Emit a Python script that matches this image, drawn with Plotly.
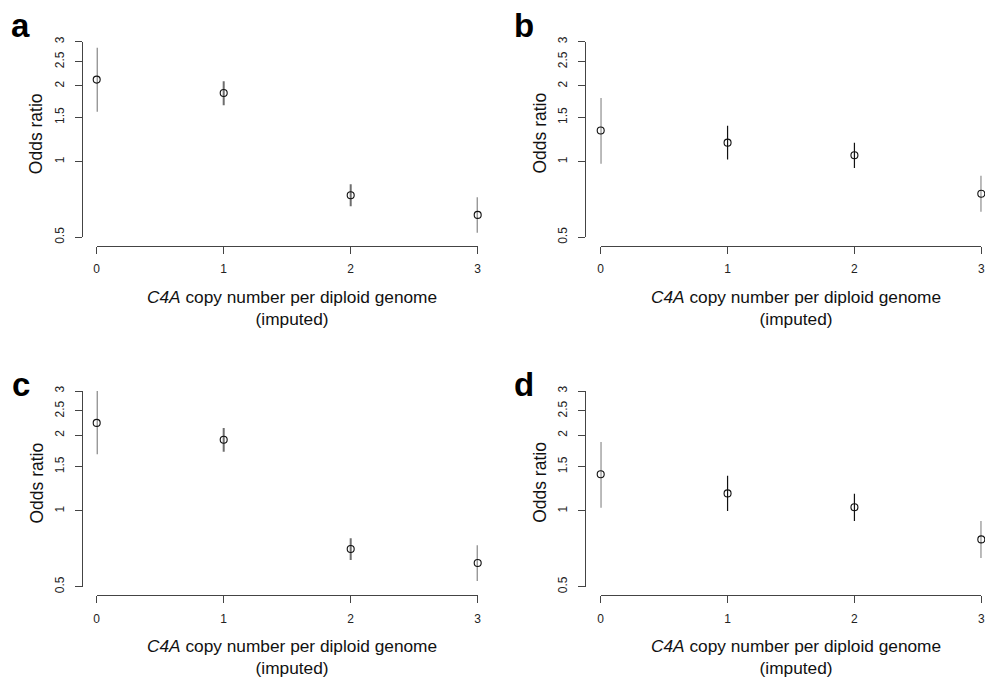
import plotly.graph_objects as go
import math

W, H = 985, 679

# ---- data ----
copies = [0, 1, 2, 3]
tick_y = [0.5, 1, 1.5, 2, 2.5, 3]
tick_y_text = ["0.5", "1", "1.5", "2", "2.5", "3"]
tick_x = [0, 1, 2, 3]

a_or = [2.12, 1.875, 0.735, 0.614]
a_lo = [1.58, 1.675, 0.664, 0.521]
a_hi = [2.84, 2.09, 0.813, 0.722]

b_or = [1.33, 1.19, 1.06, 0.745]
b_lo = [0.98, 1.02, 0.944, 0.632]
b_hi = [1.79, 1.39, 1.19, 0.879]

c_or = [2.24, 1.92, 0.706, 0.621]
c_lo = [1.68, 1.72, 0.638, 0.527]
c_hi = [3.0, 2.14, 0.78, 0.73]

d_or = [1.40, 1.175, 1.035, 0.771]
d_lo = [1.03, 1.0, 0.912, 0.65]
d_hi = [1.88, 1.38, 1.17, 0.912]

panels = [
    dict(letter="a", orv=a_or, lo=a_lo, hi=a_hi, col="#6e6e6e", ew=2.0,
         yax_x=81.7, xdom=(96.7, 477.7), ydom=(41.7, 237.3), xax_y=245.7),
    dict(letter="b", orv=b_or, lo=b_lo, hi=b_hi, col="#111111", ew=1.2,
         yax_x=585.0, xdom=(600.7, 981.3), ydom=(41.7, 237.3), xax_y=245.7),
    dict(letter="c", orv=c_or, lo=c_lo, hi=c_hi, col="#6e6e6e", ew=2.0,
         yax_x=81.7, xdom=(96.7, 477.7), ydom=(391.0, 586.7), xax_y=595.0),
    dict(letter="d", orv=d_or, lo=d_lo, hi=d_hi, col="#111111", ew=1.2,
         yax_x=585.0, xdom=(600.7, 981.3), ydom=(391.0, 586.7), xax_y=595.0),
]

def fx(px):
    return px / W

def fy(py):
    return 1 - py / H

FONT = "Liberation Sans, Arial, Helvetica, sans-serif"

fig = go.Figure()
layout = dict(
    width=W, height=H,
    margin=dict(l=0, r=0, t=0, b=0),
    paper_bgcolor="white", plot_bgcolor="white",
    showlegend=False,
    font=dict(family=FONT, color="#111111"),
)
annotations = []

for i, p in enumerate(panels):
    n = i + 1
    xa = "x" if n == 1 else f"x{n}"
    ya = "y" if n == 1 else f"y{n}"
    plus = [h - o for h, o in zip(p["hi"], p["orv"])]
    minus = [o - l for o, l in zip(p["orv"], p["lo"])]
    fig.add_trace(go.Scatter(
        x=copies, y=p["orv"], mode="markers", xaxis=xa, yaxis=ya,
        cliponaxis=False,
        marker=dict(symbol="circle-open", size=7, color="#111111",
                    line=dict(width=1.1, color="#111111")),
        error_y=dict(type="data", symmetric=False, array=plus, arrayminus=minus,
                     width=0, thickness=p["ew"], color=p["col"]),
    ))
    layout["xaxis" if n == 1 else f"xaxis{n}"] = dict(
        domain=[fx(p["xdom"][0]), fx(p["xdom"][1])],
        range=[0, 3], anchor="free", position=fy(p["xax_y"]),
        tickvals=tick_x, ticktext=[str(t) for t in tick_x],
        ticks="outside", ticklen=7, tickwidth=1.2, tickcolor="#444444",
        showline=True, linecolor="#444444", linewidth=1.2,
        showgrid=False, zeroline=False, automargin=False,
        ticklabelstandoff=5,
        tickfont=dict(size=12, family=FONT, color="#222222"),
    )
    layout["yaxis" if n == 1 else f"yaxis{n}"] = dict(
        domain=[fy(p["ydom"][1]), fy(p["ydom"][0])],
        type="log", range=[math.log10(0.5), math.log10(3)],
        anchor="free", position=fx(p["yax_x"]),
        tickvals=tick_y, ticktext=tick_y_text, tickangle=-90,
        ticks="outside", ticklen=7, tickwidth=1.2, tickcolor="#444444",
        showline=True, linecolor="#444444", linewidth=1.2,
        showgrid=False, zeroline=False, automargin=False,
        ticklabelstandoff=6,
        tickfont=dict(size=12, family=FONT, color="#222222"),
    )
    # axis titles
    xc = (p["xdom"][0] + p["xdom"][1]) / 2 + 5
    annotations.append(dict(
        xref="paper", yref="paper", x=fx(xc), y=fy(p["xax_y"] + 39),
        xanchor="center", yanchor="top", showarrow=False,
        text="<i>C4A</i> copy number per diploid genome<br>(imputed)",
        font=dict(size=17.3, family=FONT, color="#111111"), align="center",
    ))
    yc = (p["ydom"][0] + p["ydom"][1]) / 2 - 6
    annotations.append(dict(
        xref="paper", yref="paper", x=fx(p["yax_x"] - 45), y=fy(yc),
        xanchor="center", yanchor="middle", showarrow=False, textangle=-90,
        text="Odds ratio",
        font=dict(size=17.5, family=FONT, color="#111111"),
    ))
    # panel letter
    lx = p["yax_x"] - 61
    ly = p["ydom"][0] - 16 if n <= 2 else p["ydom"][0] - 7
    annotations.append(dict(
        xref="paper", yref="paper", x=fx(lx), y=fy(ly),
        xanchor="center", yanchor="middle", showarrow=False,
        text="<b>%s</b>" % p["letter"],
        font=dict(size=33, family=FONT, color="#000000"),
    ))

layout["annotations"] = annotations
fig.update_layout(**layout)
fig.write_html("out.html")
